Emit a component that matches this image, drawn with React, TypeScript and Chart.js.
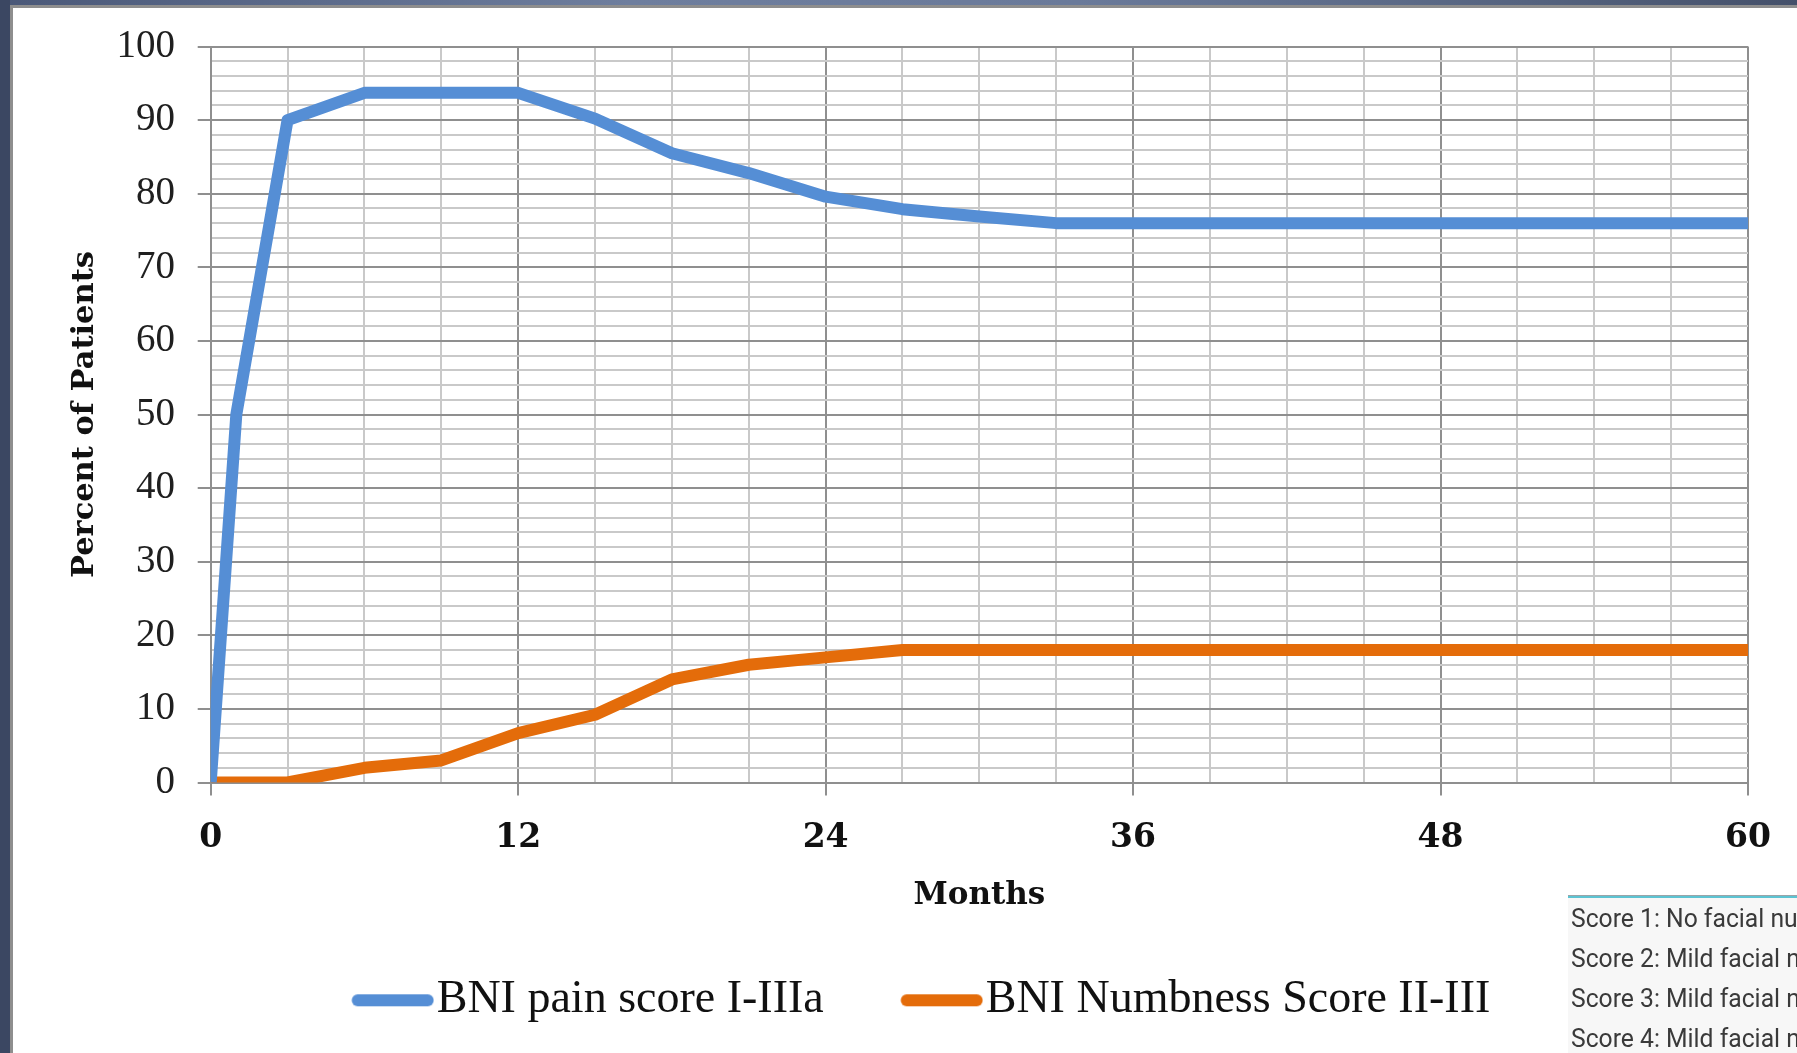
import React, { useEffect, useRef } from "react";
import { Chart, registerables } from "chart.js";

Chart.register(...registerables);

// Series: months after treatment and the share of patients in each outcome group
const painMonths = [0, 1, 3, 6, 9, 12, 15, 18, 21, 24, 27, 30, 33, 36, 48, 60];
const painValues = [0, 50, 90, 93.7, 93.7, 93.7, 90.2, 85.5, 82.8, 79.6, 77.9, 76.9, 76, 76, 76, 76];

const numbMonths = [0, 3, 6, 9, 12, 15, 18, 21, 24, 27, 30, 36, 48, 60];
const numbValues = [0, 0, 2, 3, 6.7, 9.2, 14, 16, 17, 18, 18, 18, 18, 18];

const seriesLabels = ["BNI pain score I-IIIa", "BNI Numbness Score II-III"];
const seriesColors = ["#558ed5", "#e46c0a"];

// Labelled ticks (the grid also has minor lines between them)
const yTickLabels = [0, 10, 20, 30, 40, 50, 60, 70, 80, 90, 100];
const xTickLabels = [0, 12, 24, 36, 48, 60];

const yTitle = "Percent of Patients";
const xTitle = "Months";

const scoreNotes = [
  "Score 1: No facial numbness",
  "Score 2: Mild facial numbness, not bothersome",
  "Score 3: Mild facial numbness, somewhat bothersome",
  "Score 4: Mild facial numbness, very bothersome",
];

const CANVAS_W = 1784;
const CANVAS_H = 1045;

// Legend swatch: a thick rounded line drawn into a small canvas
const SWATCH_W = 160;
const SWATCH_H = 20;
function makeSwatch(color: string): HTMLCanvasElement {
  const c = document.createElement("canvas");
  c.width = SWATCH_W;
  c.height = SWATCH_H;
  const g = c.getContext("2d");
  if (g) {
    g.strokeStyle = color;
    g.lineWidth = 12;
    g.lineCap = "round";
    g.beginPath();
    g.moveTo(83.5, SWATCH_H / 2);
    g.lineTo(153.5, SWATCH_H / 2);
    g.stroke();
  }
  return c;
}

const MAJOR_GRID = "#8f8f8f";
const MINOR_GRID = "#c9c9c9";

export default function App() {
  const canvasRef = useRef<HTMLCanvasElement | null>(null);

  useEffect(() => {
    const canvas = canvasRef.current;
    if (!canvas) return;
    const swatches = seriesColors.map(makeSwatch);

    const chart = new Chart(canvas, {
      type: "line",
      data: {
        datasets: [
          {
            label: seriesLabels[0],
            data: painMonths.map((m, i) => ({ x: m, y: painValues[i] })),
            borderColor: seriesColors[0],
            backgroundColor: seriesColors[0],
            borderWidth: 12,
            pointRadius: 0,
            tension: 0,
            borderJoinStyle: "round",
            borderCapStyle: "butt",
          },
          {
            label: seriesLabels[1],
            data: numbMonths.map((m, i) => ({ x: m, y: numbValues[i] })),
            borderColor: seriesColors[1],
            backgroundColor: seriesColors[1],
            borderWidth: 12,
            pointRadius: 0,
            tension: 0,
            borderJoinStyle: "round",
            borderCapStyle: "butt",
          },
        ],
      },
      options: {
        responsive: false,
        animation: false,
        devicePixelRatio: 1,
        layout: { padding: { top: 38.5, right: 49, bottom: 19.7, left: 24 } },
        plugins: {
          tooltip: { enabled: false },
          legend: {
            display: true,
            position: "bottom",
            labels: {
              usePointStyle: true,
              pointStyleWidth: 119,
              boxHeight: 20,
              padding: 20,
              color: "#111111",
              font: { family: "'Liberation Serif'", size: 46 },
              generateLabels: (ch: any) =>
                ch.data.datasets.map((ds: any, i: number) => ({
                  text: ds.label,
                  fillStyle: ds.borderColor,
                  strokeStyle: ds.borderColor,
                  lineWidth: 0,
                  pointStyle: swatches[i],
                  hidden: false,
                  datasetIndex: i,
                  fontColor: "#111111",
                })),
            },
          },
        },
        scales: {
          x: {
            type: "linear",
            min: 0,
            max: 60,
            ticks: {
              stepSize: 3,
              autoSkip: false,
              maxRotation: 0,
              minRotation: 0,
              padding: 23,
              color: "#111111",
              font: { family: "'DejaVu Serif'", weight: "bold", size: 33 },
              callback: (v: any) => (xTickLabels.includes(Number(v)) ? String(v) : ""),
            },
            grid: {
              lineWidth: 2,
              tickLength: 13,
              tickWidth: 2,
              color: (c: any) => (xTickLabels.includes(c.tick?.value) ? MAJOR_GRID : MINOR_GRID),
              tickColor: (c: any) => (xTickLabels.includes(c.tick?.value) ? MAJOR_GRID : "rgba(0,0,0,0)"),
            },
            border: { color: MAJOR_GRID, width: 2 },
            title: {
              display: true,
              text: xTitle,
              color: "#111111",
              font: { family: "'DejaVu Serif'", weight: "bold", size: 31 },
              padding: { top: 0, bottom: 42.4 },
            },
            afterFit: (s: any) => {
              s.height = 174.8;
            },
          },
          y: {
            min: 0,
            max: 100,
            ticks: {
              stepSize: 2,
              autoSkip: false,
              padding: 22.7,
              color: "#1f1f1f",
              font: { family: "'Liberation Serif'", size: 39, lineHeight: 0.8 },
              callback: (v: any) => (yTickLabels.includes(Number(v)) ? String(v) : ""),
            },
            grid: {
              lineWidth: 2,
              tickLength: 13,
              tickWidth: 2,
              color: (c: any) => (yTickLabels.includes(c.tick?.value) ? MAJOR_GRID : MINOR_GRID),
              tickColor: (c: any) => (yTickLabels.includes(c.tick?.value) ? MAJOR_GRID : "rgba(0,0,0,0)"),
            },
            border: { color: MAJOR_GRID, width: 2 },
            title: {
              display: true,
              text: yTitle,
              color: "#111111",
              font: { family: "'DejaVu Serif'", weight: "bold", size: 30.5 },
              padding: { top: 30.1, bottom: 0 },
            },
            afterFit: (s: any) => {
              s.width = 173.7;
            },
          },
        },
      } as any,
    });

    return () => {
      chart.destroy();
    };
  }, []);

  return (
    <div
      style={{
        position: "fixed",
        left: 0,
        top: 0,
        width: 1797,
        height: 1053,
        overflow: "hidden",
        background: "#ffffff",
      }}
    >
      {/* slide frame */}
      <div
        style={{
          position: "absolute",
          left: 0,
          top: 0,
          width: 1797,
          height: 5,
          background: "linear-gradient(90deg, #4a5878 0%, #6e7e9e 35%, #6a7a9a 60%, #55637f 85%, #44506a 100%)",
        }}
      />
      <div style={{ position: "absolute", left: 0, top: 5, width: 1797, height: 3, background: "#8e8e8e" }} />
      <div style={{ position: "absolute", left: 0, top: 0, width: 10, height: 1053, background: "#3b4762" }} />
      <div style={{ position: "absolute", left: 10, top: 5, width: 3, height: 1048, background: "#8e8e8e" }} />

      <canvas
        ref={canvasRef}
        width={CANVAS_W}
        height={CANVAS_H}
        style={{ position: "absolute", left: 13, top: 8, width: CANVAS_W, height: CANVAS_H }}
      />

      {/* numbness score key */}
      <div
        style={{
          position: "absolute",
          left: 1568,
          top: 896,
          width: 229,
          height: 157,
          overflow: "hidden",
          background: "#f7f7f7",
          borderTop: "2px solid #5cc3d2",
          boxShadow: "0 -1px 0 #9aa4a8",
          boxSizing: "border-box",
          paddingTop: 1,
          paddingLeft: 3,
          color: "#3a3a3a",
          whiteSpace: "nowrap",
        }}
      >
        <div
          style={{
            fontFamily: "Roboto, 'Liberation Sans', sans-serif",
            fontSize: 26,
            lineHeight: "39.9px",
            transform: "scaleX(0.95)",
            transformOrigin: "left top",
          }}
        >
          {scoreNotes.map((t) => (
            <div key={t}>{t}</div>
          ))}
        </div>
      </div>
    </div>
  );
}
